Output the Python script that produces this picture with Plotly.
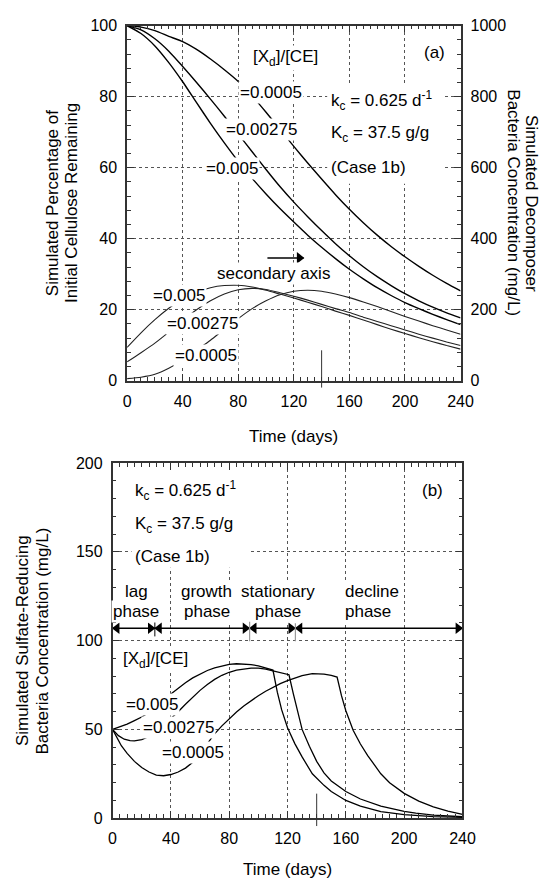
import plotly.graph_objects as go

FONT = "Liberation Sans, Arial, sans-serif"

# ---------------- panel (a): cellulose remaining and decomposer biomass ----------------
days_a = [0, 10, 20, 30, 40, 50, 60, 70, 80, 90, 100, 110, 120, 130, 140, 150,
          160, 170, 180, 190, 200, 210, 220, 230, 240]

# percentage of initial cellulose remaining (left axis)
cel_0005 = [100, 99.6, 98.6, 97.0, 95.5, 93.3, 90.6, 87.6, 84.3, 80.2, 75.6, 70.8, 66.0,
            61.3, 56.8, 52.4, 48.3, 44.5, 41.0, 37.8, 34.9, 32.2, 29.7, 27.4, 25.3]
cel_00275 = [100, 98.8, 96.3, 92.8, 88.5, 84.0, 79.3, 74.5, 69.5, 64.5, 59.5, 54.7, 50.3,
             46.2, 42.3, 38.6, 35.2, 32.1, 29.3, 26.8, 24.5, 22.5, 20.7, 19.1, 17.7]
cel_005 = [100, 97.8, 94.3, 89.6, 84.2, 78.3, 72.5, 67.0, 61.8, 57.0, 52.6, 48.5, 44.7,
           41.0, 37.6, 34.4, 31.4, 28.7, 26.2, 24.0, 22.0, 20.3, 18.7, 17.2, 15.8]

# decomposer bacteria concentration, mg/L (right axis)
dec_0005 = [6, 10, 18, 35, 58, 86, 114, 145, 175, 203, 225, 242, 252, 255, 252, 244,
            234, 222, 209, 195, 181, 168, 155, 143, 131]
dec_00275 = [53, 79, 106, 137, 170, 200, 225, 244, 256, 260, 257, 248, 238, 227, 215, 203,
             192, 179, 167, 155, 143, 131, 120, 109, 99]
dec_005 = [94, 135, 172, 204, 231, 250, 262, 268, 269, 264, 255, 244, 233, 221, 209, 196,
           184, 171, 158, 145, 133, 121, 110, 99, 89]

# ---------------- panel (b): sulfate-reducing bacteria ----------------
days_b1 = [0, 5, 10, 15, 20, 25, 30, 35, 40, 45, 50, 55, 60, 65, 70, 75, 80, 85, 90, 95,
           100, 105, 110, 113, 116, 120, 125, 130, 137, 145, 150, 160, 170, 184, 200, 220, 240]
srb_005 = [50, 51.5, 53, 55, 57, 59.5, 62.5, 66, 70, 73.3, 76.3, 79, 81.3, 83.2, 84.7, 85.8,
           86.6, 87, 86.9, 86.5, 85.8, 84.8, 83.4, 71, 61, 51, 42, 34.5, 25, 18.5, 15, 10,
           6.8, 3.7, 2.0, 0.9, 0.4]

days_b2 = [0, 4, 8, 12, 15, 20, 25, 30, 35, 40, 45, 50, 55, 60, 65, 70, 75, 80, 85, 90, 95,
           100, 105, 110, 115, 121, 124, 127, 130, 135, 140, 145, 150, 160, 170, 184, 200,
           208, 220, 240]
srb_00275 = [50, 46.5, 44.5, 43.7, 43.6, 44.3, 46, 48.8, 52.3, 56, 60, 64.2, 68.3, 72, 75.3,
             78.2, 80.5, 82.2, 83.4, 84.1, 84.5, 84.5, 84, 83, 82, 80.8, 70, 60, 50, 40.5,
             32, 25.5, 21, 15, 10.8, 6.8, 3.8, 2.8, 1.7, 0.8]

days_b3 = [0, 3, 6, 10, 15, 20, 25, 30, 35, 40, 45, 50, 55, 60, 65, 70, 75, 80, 85, 90, 95,
           100, 105, 110, 115, 120, 125, 130, 137, 145, 150, 154, 157, 160, 165, 170, 175,
           184, 190, 200, 210, 220, 230, 240]
srb_0005 = [50, 45, 40.8, 36.5, 32, 28.5, 26, 24.3, 23.9, 24.6, 26, 28.2, 31.5, 36.5, 42.3,
            47.5, 52, 56, 59.8, 63.2, 66.2, 69, 71.5, 73.8, 75.8, 77.5, 79, 80.3, 81.4, 81.2,
            80.4, 79.5, 69, 60.5, 49.5, 41.8, 35.3, 25, 20, 14, 9.6, 6.4, 4, 2.2]

# growth phases of the [Xd]/[CE]=0.005 case (phase boundaries, days)
phase_edges = [0, 29, 94, 125.4, 240]
phase_names = [["lag", "phase"], ["growth", "phase"], ["stationary", "phase"], ["decline", "phase"]]
phase_level = 107

# "secondary axis" pointer (days, % scale)
pointer_x = [101, 127]
pointer_y = 34.6

HEAD = 3.0  # half-length of an arrowhead marker, in days

fig = go.Figure()

for y in (cel_005, cel_00275, cel_0005):
    fig.add_trace(go.Scatter(x=days_a, y=y, xaxis="x", yaxis="y", mode="lines",
                             line=dict(color="black", width=1.4, shape="spline", smoothing=0.6),
                             hoverinfo="skip", showlegend=False))
for y in (dec_005, dec_00275, dec_0005):
    fig.add_trace(go.Scatter(x=days_a, y=y, xaxis="x", yaxis="y2", mode="lines",
                             line=dict(color="#222", width=1.1, shape="spline", smoothing=0.6),
                             hoverinfo="skip", showlegend=False))
for xs, ys in ((days_b1, srb_005), (days_b2, srb_00275), (days_b3, srb_0005)):
    fig.add_trace(go.Scatter(x=xs, y=ys, xaxis="x2", yaxis="y3", mode="lines",
                             line=dict(color="black", width=1.3),
                             hoverinfo="skip", showlegend=False))

# pointer arrow towards the right-hand axis
fig.add_trace(go.Scatter(x=pointer_x, y=[pointer_y, pointer_y], xaxis="x", yaxis="y",
                         mode="lines", line=dict(color="black", width=1.5),
                         hoverinfo="skip", showlegend=False))
fig.add_trace(go.Scatter(x=[pointer_x[1] - HEAD], y=[pointer_y], xaxis="x", yaxis="y",
                         mode="markers", marker=dict(symbol="triangle-right", size=10, color="black"),
                         hoverinfo="skip", showlegend=False))

# phase bar with double-headed arrows
fig.add_trace(go.Scatter(x=[phase_edges[0], phase_edges[-1]], y=[phase_level, phase_level],
                         xaxis="x2", yaxis="y3", mode="lines",
                         line=dict(color="black", width=1.5), hoverinfo="skip", showlegend=False))
fig.add_trace(go.Scatter(x=[e - HEAD for e in phase_edges[1:]],
                         y=[phase_level] * (len(phase_edges) - 1), xaxis="x2", yaxis="y3",
                         mode="markers", marker=dict(symbol="triangle-right", size=10, color="black"),
                         hoverinfo="skip", showlegend=False, cliponaxis=False))
fig.add_trace(go.Scatter(x=[e + HEAD for e in phase_edges[:-1]],
                         y=[phase_level] * (len(phase_edges) - 1), xaxis="x2", yaxis="y3",
                         mode="markers", marker=dict(symbol="triangle-left", size=10, color="black"),
                         hoverinfo="skip", showlegend=False, cliponaxis=False))

axis_common = dict(
    ticks="inside", ticklen=7, tickwidth=1, tickcolor="#333",
    showline=True, linecolor="#333", linewidth=1.5,
    zeroline=False, tickfont=dict(family=FONT, size=16, color="black"),
    ticklabelstandoff=5,
)
grid = dict(showgrid=True, gridcolor="#555", gridwidth=1, griddash="dot")

fig.update_layout(
    width=554, height=888, autosize=False,
    margin=dict(l=0, r=0, t=0, b=0),
    paper_bgcolor="white", plot_bgcolor="white",
    font=dict(family=FONT, size=17, color="black"),
    xaxis=dict(domain=[0.22924, 0.85018], anchor="y", range=[0, 240], tick0=0, dtick=40,
               mirror="ticks", minor=dict(dtick=5, ticklen=4, ticks="inside", tickcolor="#333"),
               **grid, **axis_common),
    yaxis=dict(domain=[0.57207, 0.97973], anchor="x", range=[0, 100], tick0=0, dtick=20,
               minor=dict(dtick=4, ticklen=4, ticks="inside", tickcolor="#333"),
               **grid, **axis_common),
    yaxis2=dict(overlaying="y", side="right", anchor="x", range=[0, 1000], tick0=0, dtick=200,
                showgrid=False,
                minor=dict(dtick=40, ticklen=4, ticks="inside", tickcolor="#333"),
                **axis_common),
    xaxis2=dict(domain=[0.20217, 0.85379], anchor="y3", range=[0, 240], tick0=0, dtick=40,
                mirror="ticks", minor=dict(dtick=5, ticklen=4, ticks="inside", tickcolor="#333"),
                **grid, **axis_common),
    yaxis3=dict(domain=[0.06982, 0.47748], anchor="x2", range=[0, 200], tick0=0, dtick=50,
                mirror="ticks", minor=dict(dtick=10, ticklen=4, ticks="inside", tickcolor="#333"),
                **grid, **axis_common),
)

anns = []


def label(text, x, y, xref, yref, xanchor="left", size=17, bg="white"):
    anns.append(dict(text=text, x=x, y=y, xref=xref, yref=yref, xanchor=xanchor,
                     yanchor="middle", showarrow=False, bgcolor=bg, borderpad=1,
                     font=dict(family=FONT, size=size, color="black")))


# panel (a) labels
label("[X<sub>d</sub>]/[CE]", 89, 91, "x", "y")
label("=0.0005", 80, 81.3, "x", "y")
label("=0.00275", 70, 70.8, "x", "y")
label("=0.005", 55, 59.9, "x", "y")
label("k<sub>c</sub> = 0.625 d<sup>-1</sup>", 145, 78.8, "x", "y", bg=None)
label("K<sub>c</sub> = 37.5 g/g", 145, 69.6, "x", "y", bg=None)
label("(Case 1b)", 145, 60, "x", "y", bg=None)
label("(a)", 221.5, 92.4, "x", "y", xanchor="center")
label("secondary axis", 105.5, 30.3, "x", "y", xanchor="center")
label("=0.005", 17, 24.1, "x", "y")
label("=0.00275", 27, 16.1, "x", "y")
label("=0.0005", 33, 7.2, "x", "y")

# panel (b) labels
label("k<sub>c</sub> = 0.625 d<sup>-1</sup>", 13.9, 184.3, "x2", "y3", bg=None)
label("K<sub>c</sub> = 37.5 g/g", 13.9, 165, "x2", "y3", bg=None)
label("(Case 1b)", 13.9, 147.5, "x2", "y3", bg=None)
label("(b)", 219.3, 184.3, "x2", "y3", xanchor="center")
label("[X<sub>d</sub>]/[CE]", 5.6, 89, "x2", "y3")
label("=0.005", 8, 64.3, "x2", "y3")
label("=0.00275", 19.7, 51, "x2", "y3")
label("=0.0005", 32.6, 36.8, "x2", "y3")

phase_text_x = [16.2, 64.6, 113.5, 158.3]
for (top, bottom), px in zip(phase_names, phase_text_x):
    anchor = "left" if top == "decline" else "center"
    label(top, px, 127.5, "x2", "y3", xanchor=anchor)
    label(bottom, px, 116.4, "x2", "y3", xanchor=anchor)

# axis titles
title_font = dict(family=FONT, size=17, color="black")
for text, x, y, ang in [
    ("Simulated Percentage of", 0.0894, 0.7759, -90),
    ("Initial Cellulose Remaining", 0.1245, 0.7759, -90),
    ("Simulated Decomposer", 0.9838, 0.7759, 90),
    ("Bacteria Concentration (mg/L)", 0.9495, 0.7759, 90),
    ("Time (days)", 0.5397, 0.5079, 0),
    ("Simulated Sulfate-Reducing", 0.0343, 0.2736, -90),
    ("Bacteria Concentration (mg/L)", 0.0722, 0.2736, -90),
    ("Time (days)", 0.528, 0.0113, 0),
]:
    anns.append(dict(text=text, x=x, y=y, xref="paper", yref="paper", xanchor="center",
                     yanchor="middle", textangle=ang, showarrow=False, font=title_font))

fig.update_layout(annotations=anns)

shapes = [
    # white backing behind the parameter text blocks
    dict(type="rect", xref="x", yref="y", x0=144, x1=228, y0=55.5, y1=83.5,
         fillcolor="white", line=dict(width=0), layer="between"),
    dict(type="rect", xref="x2", yref="y3", x0=13, x1=94, y0=141, y1=200,
         fillcolor="white", line=dict(width=0), layer="between"),
    # phase boundary markers
    dict(type="line", xref="x2", yref="y3", x0=29, x1=29, y0=102.4, y1=110.7,
         line=dict(color="black", width=1)),
    dict(type="line", xref="x2", yref="y3", x0=94, x1=94, y0=99.6, y1=110.7,
         line=dict(color="#999", width=1.2)),
    dict(type="line", xref="x2", yref="y3", x0=125.4, x1=125.4, y0=99.6, y1=109.8,
         line=dict(color="#999", width=1.2)),
    # short vertical marks at day 140
    dict(type="line", xref="x", yref="paper", x0=140, x1=140, y0=0.5642, y1=0.6070,
         line=dict(color="#333", width=1)),
    dict(type="line", xref="x2", yref="paper", x0=140, x1=140, y0=0.0608, y1=0.0980,
         line=dict(color="#333", width=1)),
]
fig.update_layout(shapes=shapes)

fig.write_html("out.html")
